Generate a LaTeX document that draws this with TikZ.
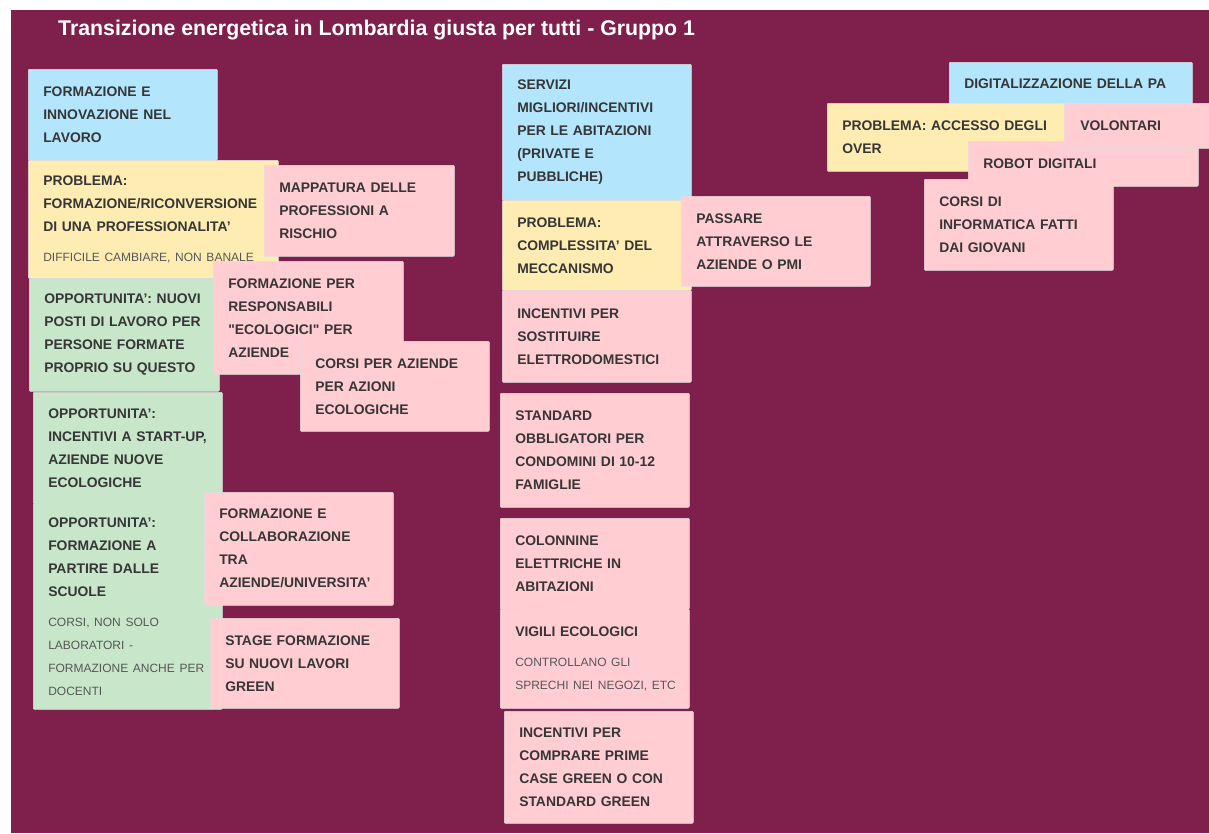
\documentclass[tikz,border=0pt]{standalone}
\usepackage{fontspec}
\setmainfont{Liberation Sans}
\newfontfamily\straightquote{Liberation Sans}[Ligatures=TeXOff]

\definecolor{wall}{HTML}{7E1F4C}
\definecolor{noteblue}{HTML}{B3E5FC}
\definecolor{noteyellow}{HTML}{FFECB3}
\definecolor{notepink}{HTML}{FFCDD2}
\definecolor{notegreen}{HTML}{C8E6C9}
\definecolor{ink}{HTML}{363636}
\definecolor{subink}{HTML}{575757}

\newcommand{\subnote}[1]{{\fontsize{12}{23}\selectfont\mdseries\color{subink}#1}}
\newcommand{\dq}{{\straightquote\bfseries"}}

\begin{document}
\begin{tikzpicture}[x=1pt, y=-1pt,
  note/.style={anchor=north west, draw=black!12, line width=0.5pt, rounded corners=1pt,
    inner xsep=15pt, inner ysep=0pt, text width=159pt, align=left, text=ink,
    font=\fontsize{13.9}{23}\selectfont\bfseries},
  bluenote/.style={note, fill=noteblue},
  yellownote/.style={note, fill=noteyellow},
  pinknote/.style={note, fill=notepink},
  greennote/.style={note, fill=notegreen}]
  \useasboundingbox (0,0) rectangle (1209,833);
  \fill[white] (0,0) rectangle (1209,833);
  \fill[wall] (11,10) rectangle (1209,833);

  \node[anchor=base west, inner sep=0pt, text=white, font=\fontsize{21.3}{26}\selectfont\bfseries] (title) at (58,35.5) {Transizione energetica in Lombardia giusta per tutti - Gruppo 1};

  \node[bluenote, minimum height=91pt] (lavoro) at (28,69) {FORMAZIONE E\\INNOVAZIONE NEL\\LAVORO};
  \node[yellownote, text width=220pt, minimum height=118pt] (riconv) at (28,160) {PROBLEMA:\\FORMAZIONE/RICONVERSIONE\\DI UNA PROFESSIONALITA'\\[7pt]\subnote{DIFFICILE CAMBIARE, NON BANALE}};
  \node[pinknote, text width=160pt, minimum height=91pt] (mappatura) at (264,165) {MAPPATURA DELLE\\PROFESSIONI A\\RISCHIO};
  \node[greennote, text width=160pt, minimum height=113pt] (posti) at (29,278) {OPPORTUNITA': NUOVI\\POSTI DI LAVORO PER\\PERSONE FORMATE\\PROPRIO SU QUESTO};
  \node[pinknote, text width=160pt, minimum height=113pt] (responsabili) at (213,261) {FORMAZIONE PER\\RESPONSABILI\\\dq ECOLOGICI\dq{} PER\\AZIENDE};
  \node[pinknote, minimum height=90pt] (corsiaz) at (300,341) {CORSI PER AZIENDE\\PER AZIONI\\ECOLOGICHE};
  \node[greennote, minimum height=111pt] (startup) at (33,392) {OPPORTUNITA':\\INCENTIVI A START-UP,\\AZIENDE NUOVE\\ECOLOGICHE};
  \node[greennote, minimum height=206pt] (scuole) at (33,503) {OPPORTUNITA':\\FORMAZIONE A\\PARTIRE DALLE\\SCUOLE\\[7pt]\subnote{CORSI, NON SOLO\\LABORATORI -\\\mbox{FORMAZIONE ANCHE PER}\\DOCENTI}};
  \node[pinknote, minimum height=113pt] (universita) at (204,492) {FORMAZIONE E\\COLLABORAZIONE\\TRA\\AZIENDE/UNIVERSITA'};
  \node[pinknote, minimum height=90pt] (stage) at (210,618) {STAGE FORMAZIONE\\SU NUOVI LAVORI\\GREEN};

  \node[bluenote, minimum height=136pt] (abitazioni) at (502,64) {SERVIZI\\MIGLIORI/INCENTIVI\\PER LE ABITAZIONI\\(PRIVATE E\\PUBBLICHE)};
  \node[yellownote, minimum height=90pt] (complessita) at (502,200) {PROBLEMA:\\COMPLESSITA' DEL\\MECCANISMO};
  \node[pinknote, minimum height=90pt] (pmi) at (681,196) {PASSARE\\ATTRAVERSO LE\\AZIENDE O PMI};
  \node[pinknote, minimum height=92pt] (elettro) at (502,290) {INCENTIVI PER\\SOSTITUIRE\\ELETTRODOMESTICI};
  \node[pinknote, minimum height=114pt] (condomini) at (500,393) {STANDARD\\OBBLIGATORI PER\\CONDOMINI DI 10-12\\FAMIGLIE};
  \node[pinknote, minimum height=91pt] (colonnine) at (500,518) {COLONNINE\\ELETTRICHE IN\\ABITAZIONI};
  \node[pinknote, minimum height=99pt] (vigili) at (500,609) {VIGILI ECOLOGICI\\[7pt]\subnote{CONTROLLANO GLI\\\mbox{SPRECHI NEI NEGOZI, ETC}}};
  \node[pinknote, minimum height=112pt] (primecase) at (504,711) {INCENTIVI PER\\COMPRARE PRIME\\CASE GREEN O CON\\STANDARD GREEN};

  \node[bluenote, text width=213pt, minimum height=42pt] (digitale) at (949,62) {DIGITALIZZAZIONE DELLA PA};
  \node[yellownote, text width=243pt, minimum height=68pt] (over) at (827,103) {PROBLEMA: ACCESSO DEGLI\\OVER};
  \node[pinknote, text width=200pt, minimum height=45pt] (robot) at (968,141) {ROBOT DIGITALI};
  \node[pinknote, text width=130pt, inner xsep=16pt, minimum height=45pt] (volontari) at (1064,103) {VOLONTARI};
  \node[pinknote, minimum height=91pt] (informatica) at (924,179) {CORSI DI\\INFORMATICA FATTI\\DAI GIOVANI};
\end{tikzpicture}
\end{document}
